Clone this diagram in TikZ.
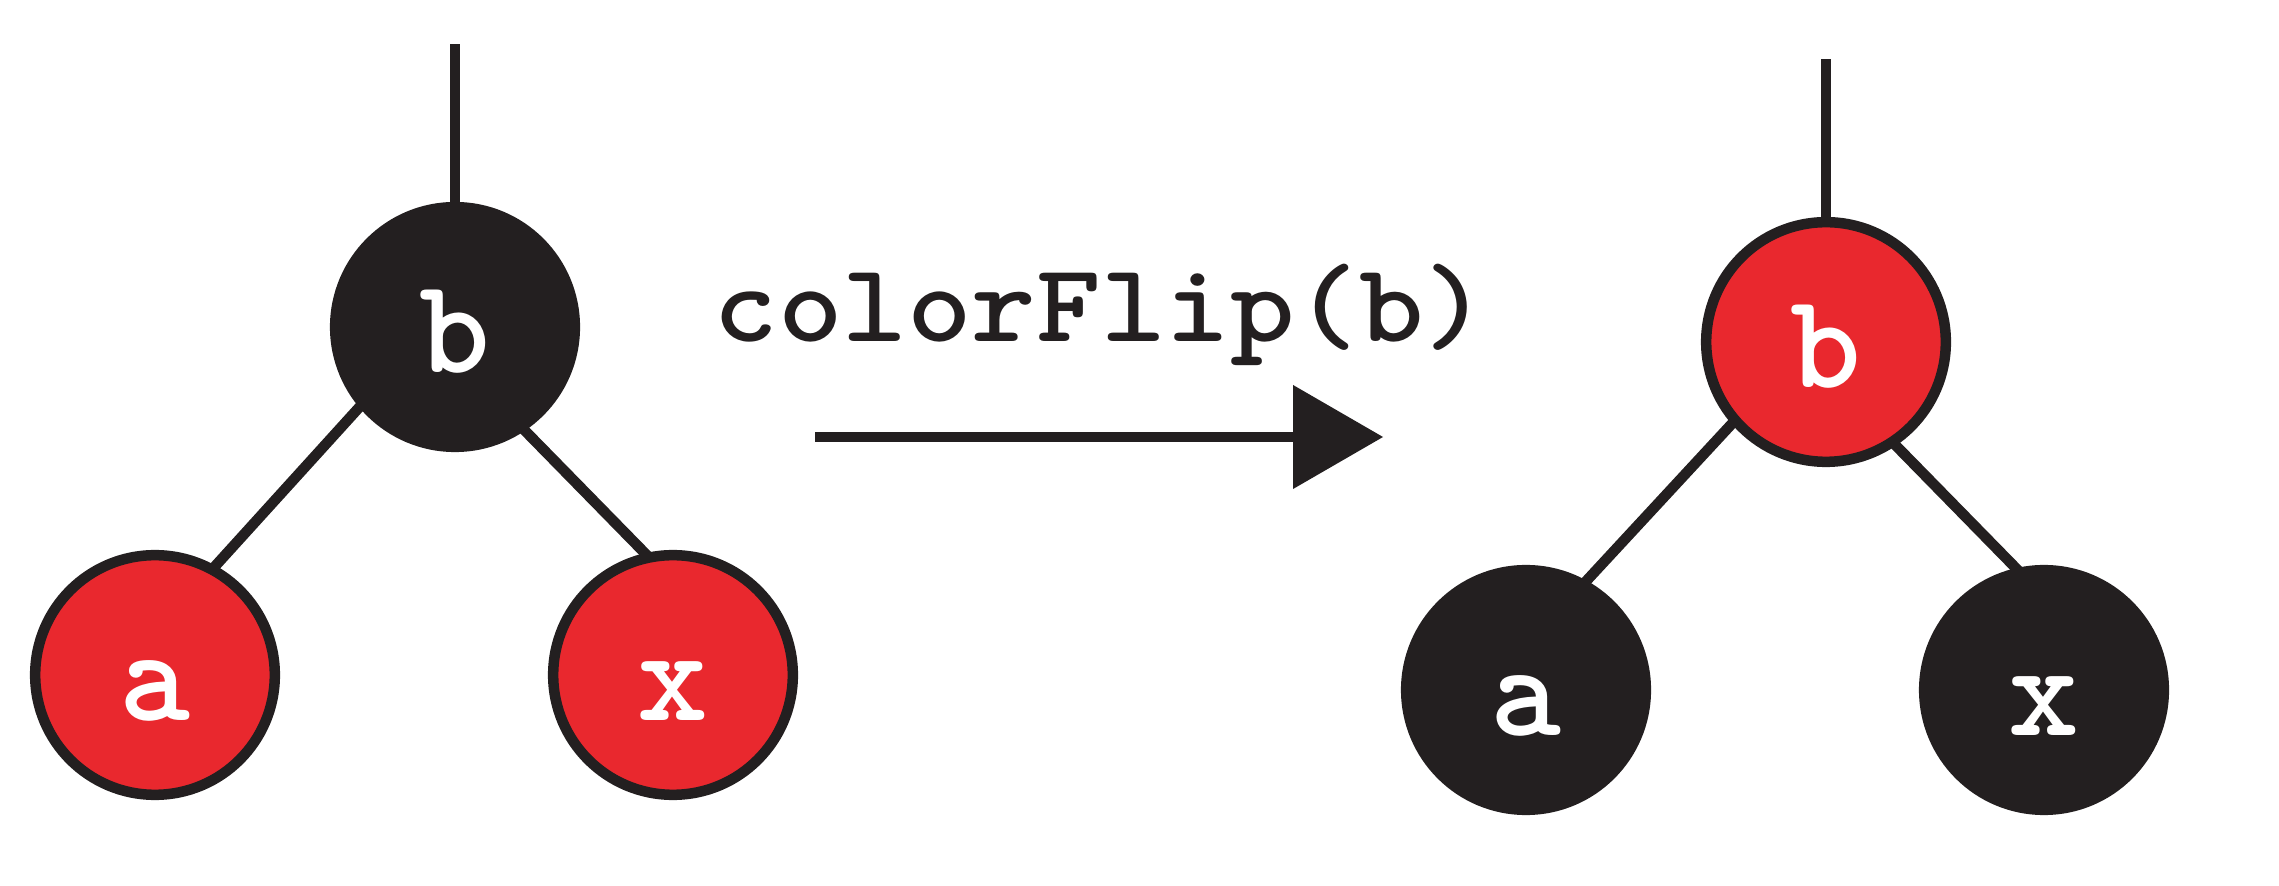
\documentclass[tikz,border=0pt]{standalone}
\usepackage{fontspec}
\usepackage{graphicx}
\usetikzlibrary{backgrounds}
\definecolor{nodeblack}{RGB}{35,31,32}
\definecolor{nodered}{RGB}{233,40,46}
\begin{document}
\begin{tikzpicture}[x=0.01cm,y=-0.01cm,
  treenode/.style={circle, minimum size=2.395cm, inner sep=0pt, line width=0.105cm,
    draw=nodeblack, text=white, font=\ttfamily\bfseries\fontsize{38.4}{38.4}\selectfont,
    text height=0.9cm, text depth=0cm},
  blacknode/.style={treenode, fill=nodeblack},
  rednode/.style={treenode, fill=nodered},
  edge/.style={draw=nodeblack, line width=0.105cm, shorten <=-0.06cm, shorten >=-0.06cm},
  stem/.style={draw=nodeblack, line width=0.105cm},
  label/.style={inner sep=0pt, text=nodeblack, font=\ttfamily\bfseries\fontsize{31.8}{31.8}\selectfont, anchor=base}]
\useasboundingbox (0,0) rectangle (2279,886);
% left tree
\node[blacknode] (lb) at (455,327) {b};
\node[rednode] (la) at (155,675) {a};
\node[rednode] (lx) at (673,675) {x};
\coordinate (ltop) at (455,44);
% right tree
\node[rednode] (rb) at (1826,342) {b};
\node[blacknode] (ra) at (1526,690) {a};
\node[blacknode] (rx) at (2044,690) {x};
\coordinate (rtop) at (1826,59);
\begin{pgfonlayer}{background}
\draw[stem] (lb.center) -- (ltop);
\draw[edge] (lb.220) -- (la.61);
\draw[edge] (lb.304) -- (lx.103);
\draw[stem] (rb.center) -- (rtop);
\draw[edge] (rb.221) -- (ra.61);
\draw[edge] (rb.304) -- (rx.103);
\end{pgfonlayer}
% operation label and arrow
\node[label] (op) at (1101,342) {\scalebox{1.1}[1]{colorFlip(b)}};
\coordinate (arS) at (815,437);
\coordinate (arB) at (1293,437);
\coordinate (arT) at (1383,437);
\draw[stem] (arS) -- ([xshift=2pt]arB);
\fill[nodeblack] ([yshift=0.52cm]arB) -- (arT) -- ([yshift=-0.52cm]arB) -- cycle;
\end{tikzpicture}
\end{document}
